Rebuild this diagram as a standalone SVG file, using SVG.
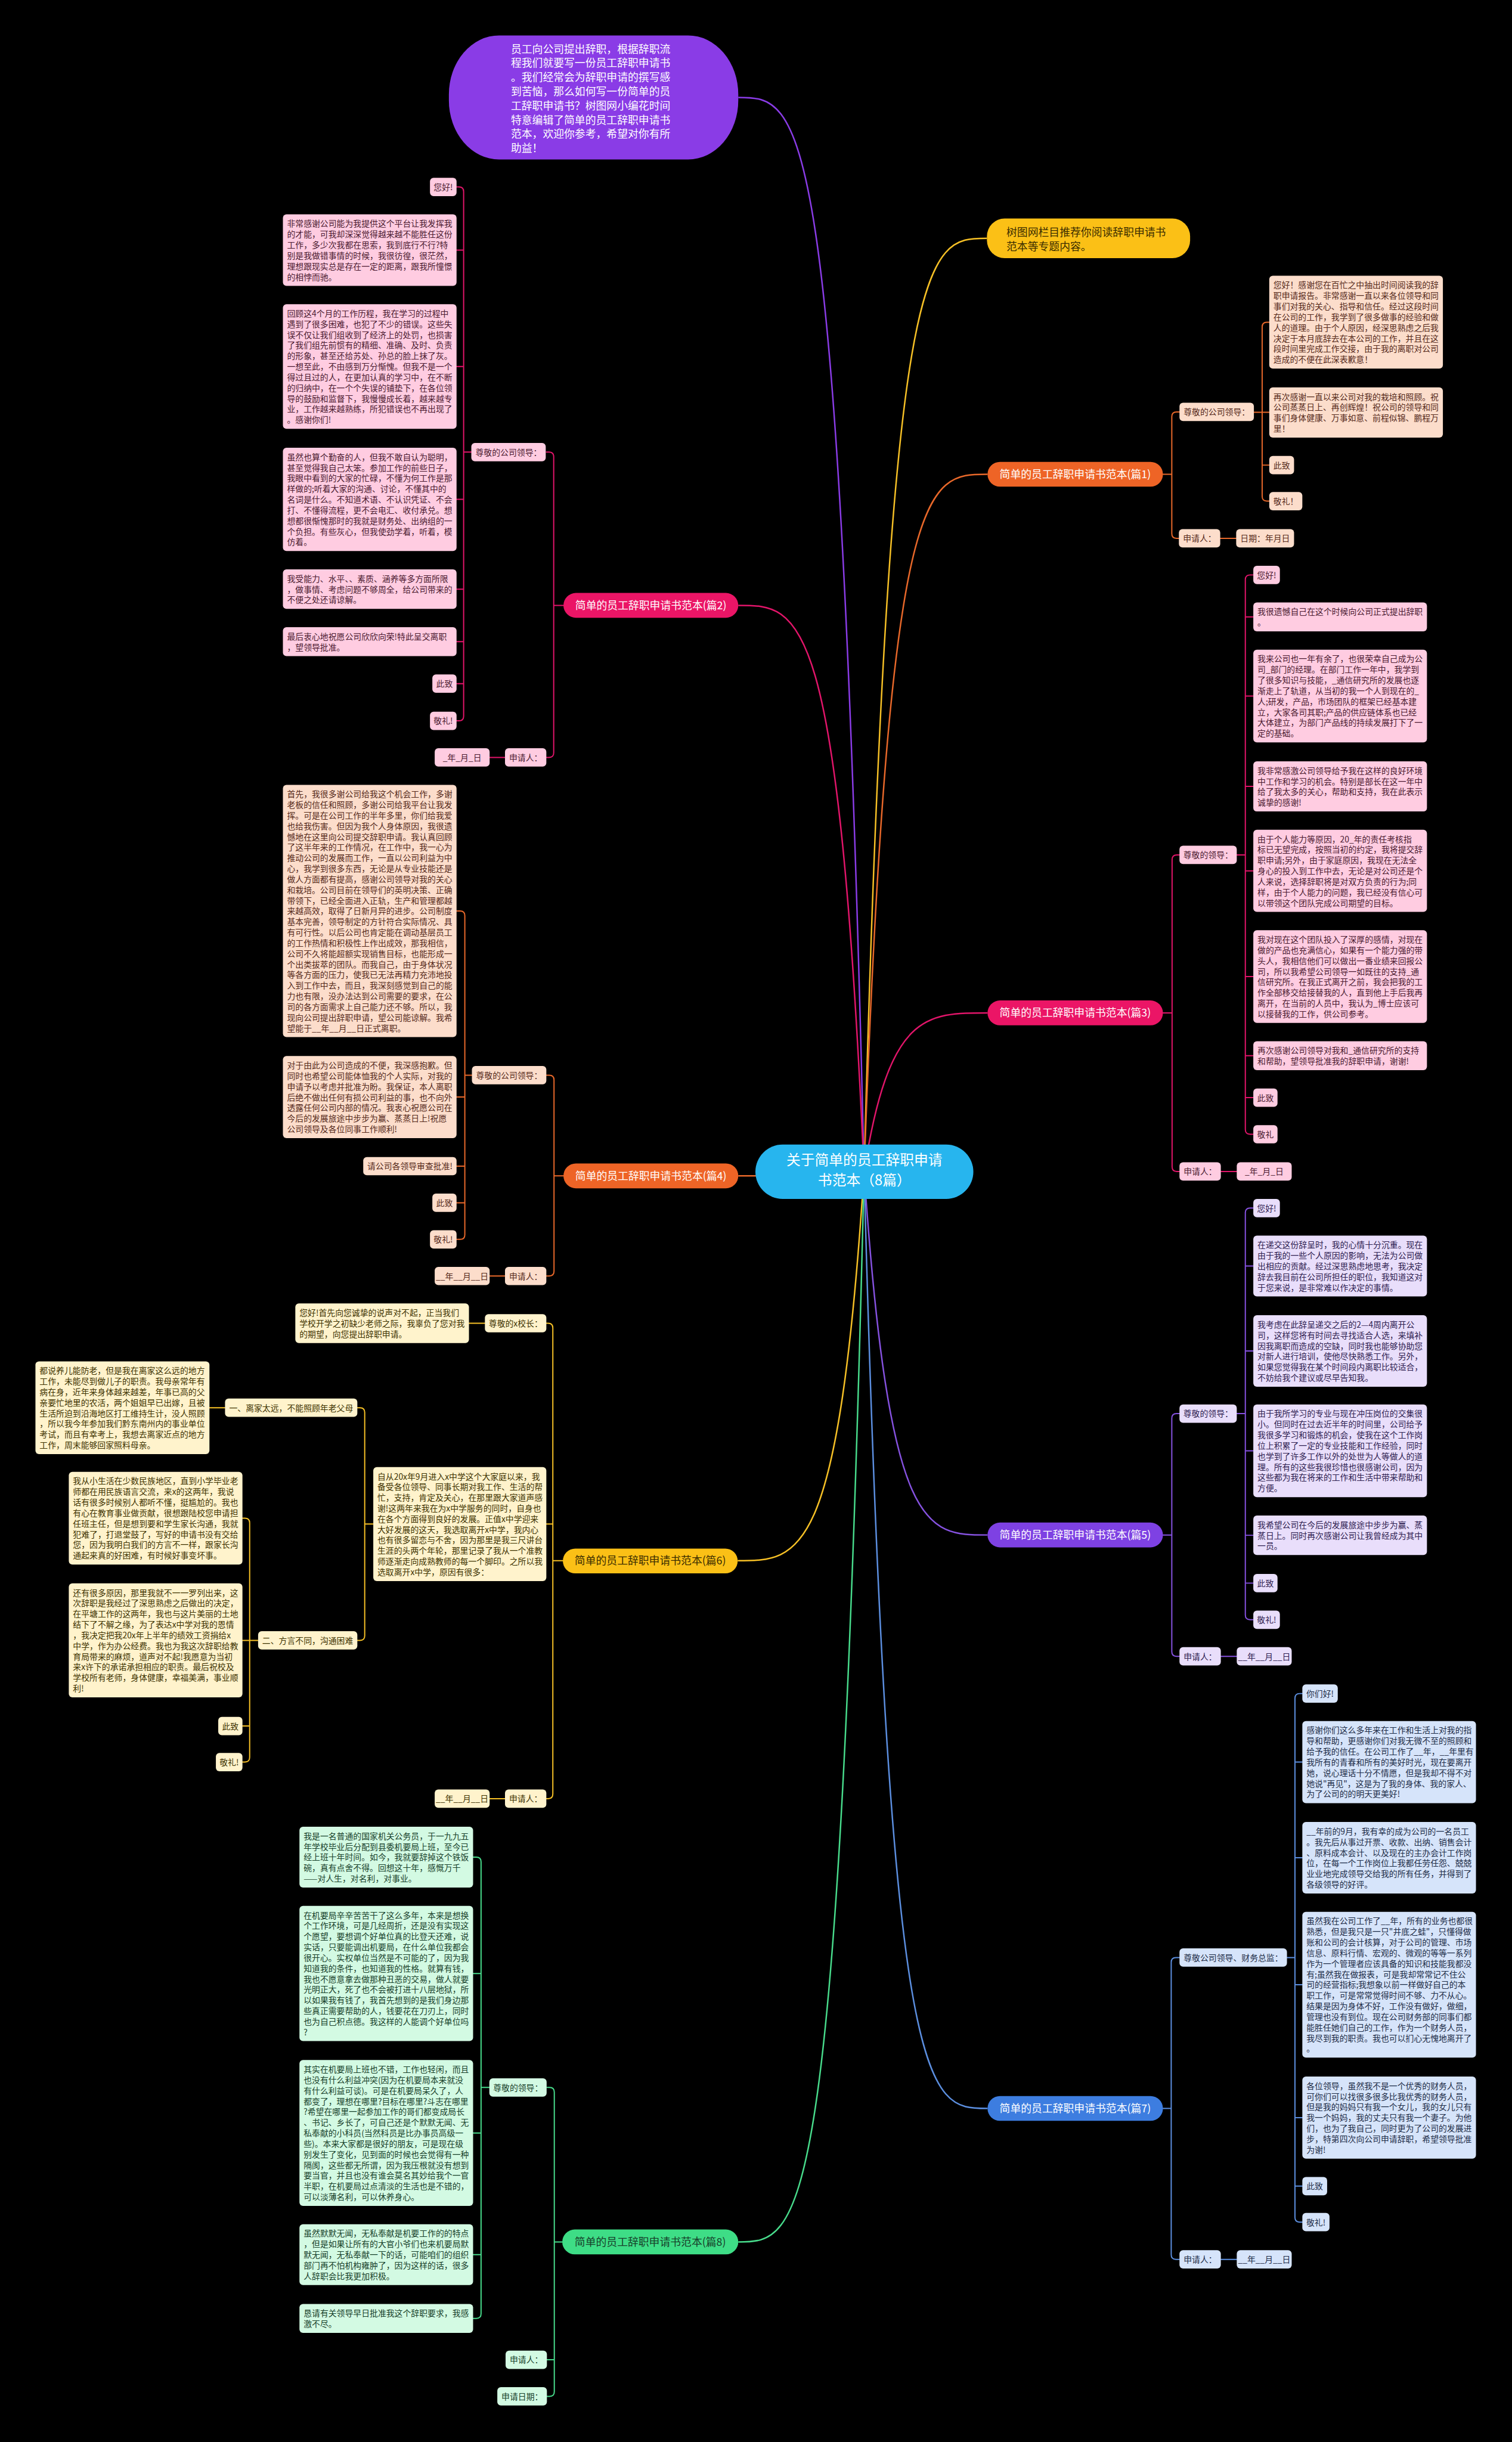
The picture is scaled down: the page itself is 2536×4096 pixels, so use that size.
<svg xmlns="http://www.w3.org/2000/svg" width="2536" height="4096" viewBox="0 0 2536 4096">
<style>
text{font-family:"Noto Sans CJK SC","Noto Sans",sans-serif;font-size:14px}
.lbl{text-anchor:middle}
.nd text{font-size:18px;text-anchor:middle}
.cn path{fill:none;stroke-width:2;stroke-linecap:round}
.mc path{fill:none;stroke-width:2.5}
.or rect{fill:#FCDDCB}.or text{fill:#55291a}
.pk rect{fill:#FFCCE1}.pk text{fill:#4a1a30}
.pu rect{fill:#E9DEFB}.pu text{fill:#2e2050}
.ye rect{fill:#FFF3CC}.ye text{fill:#3d3200}
.bl rect{fill:#D6E4FA}.bl text{fill:#1d2c47}
.gr rect{fill:#D3FAE3}.gr text{fill:#17402a}
</style>
<rect x="0" y="0" width="2536" height="4096" fill="#000"/>
<g transform="scale(0.990625)">
<g id="connectors">
<g class="mc">
<path stroke="#8A3CE6" d="M1463 1984 C1420 165 1357 165 1250 165"/>
<path stroke="#F6C026" d="M1463 1984 C1505 403.5 1567 403.5 1671 403.5"/>
<path stroke="#E8682A" d="M1463 1984 C1505 803 1567.5 803 1672 803"/>
<path stroke="#E2156A" d="M1463 1984 C1420 1025 1356.5 1025 1250 1025"/>
<path stroke="#E2156A" d="M1463 1984 C1505 1715 1567.5 1715 1672 1715"/>
<path stroke="#E8682A" d="M1463 1984 C1420 1991 1356.5 1991 1250 1991"/>
<path stroke="#8652E0" d="M1463 1984 C1505 2599 1567.5 2599 1672 2599"/>
<path stroke="#F6C026" d="M1463 1984 C1420 2642.5 1356 2642.5 1249 2642.5"/>
<path stroke="#5C8FE0" d="M1463 1984 C1505 3570 1567.5 3570 1672 3570"/>
<path stroke="#48DC8C" d="M1463 1984 C1420 3796 1356.5 3796 1250 3796"/>
</g>
<g class="cn">
<path stroke="#E8682A" d="M1997 697.5 H1992 Q1984 697.5 1984 705.5 V903.5 Q1984 911.5 1992 911.5 H1997 M1969 803 H1984 M2066 911.5 H2093"/>
<path stroke="#E8682A" d="M2149 545.5 H2145 Q2137 545.5 2137 553.5 V840.5 Q2137 848.5 2145 848.5 H2149 M2123 698 H2149 M2137 787.5 H2149"/>
<path stroke="#E2156A" d="M925 765.5 H929.5 Q937.5 765.5 937.5 773.5 V1274.5 Q937.5 1282.5 929.5 1282.5 H925 M954 1025 H937.5 M829 1282.5 H855"/>
<path stroke="#E2156A" d="M773 316.5 H777 Q785 316.5 785 324.5 V1212.5 Q785 1220.5 777 1220.5 H773 M798 765.5 H785 M785 423.5 H773 M785 620.5 H773 M785 845.5 H773 M785 997.5 H773 M785 1086.5 H773 M785 1157.5 H773"/>
<path stroke="#E2156A" d="M1997 1447.5 H1992.5 Q1984.5 1447.5 1984.5 1455.5 V1975.5 Q1984.5 1983.5 1992.5 1983.5 H1997 M1969 1715 H1984.5 M2067 1983.5 H2094"/>
<path stroke="#E2156A" d="M2122 973.5 H2116.5 Q2108.5 973.5 2108.5 981.5 V1912.5 Q2108.5 1920.5 2116.5 1920.5 H2122 M2094 1447.5 H2108.5 M2108.5 1044.5 H2122 M2108.5 1178.5 H2122 M2108.5 1331.5 H2122 M2108.5 1474.5 H2122 M2108.5 1653.5 H2122 M2108.5 1787.5 H2122 M2108.5 1858.5 H2122"/>
<path stroke="#E8682A" d="M925 1820.5 H930 Q938 1820.5 938 1828.5 V2152.5 Q938 2160.5 930 2160.5 H925 M954 1991 H938 M829 2160.5 H855"/>
<path stroke="#E8682A" d="M773 1542.5 H779 Q787 1542.5 787 1550.5 V2090.5 Q787 2098.5 779 2098.5 H773 M799 1820.5 H787 M787 1857.5 H773 M787 1974.5 H773 M787 2036.5 H773"/>
<path stroke="#8652E0" d="M1997 2393.5 H1992 Q1984 2393.5 1984 2401.5 V2796.5 Q1984 2804.5 1992 2804.5 H1997 M1969 2599 H1984 M2067 2804.5 H2094"/>
<path stroke="#8652E0" d="M2122 2045.5 H2116.5 Q2108.5 2045.5 2108.5 2053.5 V2734.5 Q2108.5 2742.5 2116.5 2742.5 H2122 M2094 2393.5 H2108.5 M2108.5 2143.5 H2122 M2108.5 2287.5 H2122 M2108.5 2456.5 H2122 M2108.5 2599.5 H2122 M2108.5 2680.5 H2122"/>
<path stroke="#F6C026" d="M925 2240.5 H928 Q936 2240.5 936 2248.5 V3037.5 Q936 3045.5 928 3045.5 H925 M953 2642.5 H936 M936 2580.5 H925 M794 2240.5 H821 M829 3045.5 H855"/>
<path stroke="#F6C026" d="M605 2383.5 H609.5 Q617.5 2383.5 617.5 2391.5 V2769.5 Q617.5 2777.5 609.5 2777.5 H605 M632 2580.5 H617.5 M354.6 2383.5 H381"/>
<path stroke="#F6C026" d="M410.5 2570.5 H414.7 Q422.7 2570.5 422.7 2578.5 V2975.5 Q422.7 2983.5 414.7 2983.5 H410.5 M437 2777.5 H410.5 M422.7 2922.5 H410.5"/>
<path stroke="#5C8FE0" d="M1997 3314.5 H1991 Q1983 3314.5 1983 3322.5 V3817.5 Q1983 3825.5 1991 3825.5 H1997 M1969 3570 H1983 M2067 3825.5 H2094"/>
<path stroke="#5C8FE0" d="M2205 2867.5 H2200.5 Q2192.5 2867.5 2192.5 2875.5 V3754.5 Q2192.5 3762.5 2200.5 3762.5 H2205 M2179 3314.5 H2192.5 M2192.5 2983.5 H2205 M2192.5 3145.5 H2205 M2192.5 3360.5 H2205 M2192.5 3585.5 H2205 M2192.5 3701.5 H2205"/>
<path stroke="#48DC8C" d="M926 3534.5 H930.5 Q938.5 3534.5 938.5 3542.5 V4049.5 Q938.5 4057.5 930.5 4057.5 H926 M952 3796 H938.5 M938.5 3995.5 H926"/>
<path stroke="#48DC8C" d="M801 3144.5 H806.5 Q814.5 3144.5 814.5 3152.5 V3917.5 Q814.5 3925.5 806.5 3925.5 H801 M828.5 3534.5 H814.5 M814.5 3341.5 H801 M814.5 3611.5 H801 M814.5 3817.5 H801"/>
</g>
</g>

<g id="root"><rect x="1279" y="1938" width="369" height="92" rx="46" fill="#27B5EE"/><text x="1463.5" y="1973" style="font-size:24px;text-anchor:middle" fill="#fff">关于简单的员工辞职申请</text><text x="1463.5" y="2007" style="font-size:24px;text-anchor:middle" fill="#fff">书范本（8篇）</text></g>

<g id="intro"><rect x="760" y="60" width="490" height="210" rx="85" ry="100" fill="#8A3CE6"/><text x="865" y="89.5" style="font-size:18px" fill="#fff"><tspan x="865" dy="0">员工向公司提出辞职，根据辞职流</tspan><tspan x="865" dy="24">程我们就要写一份员工辞职申请书</tspan><tspan x="865" dy="24">。我们经常会为辞职申请的撰写感</tspan><tspan x="865" dy="24">到苦恼，那么如何写一份简单的员</tspan><tspan x="865" dy="24">工辞职申请书？树图网小编花时间</tspan><tspan x="865" dy="24">特意编辑了简单的员工辞职申请书</tspan><tspan x="865" dy="24">范本，欢迎你参考，希望对你有所</tspan><tspan x="865" dy="24">助益！</tspan></text></g>

<g id="recommend"><rect x="1671" y="370" width="344" height="67" rx="30" fill="#FBC016"/><text x="1704" y="399.5" style="font-size:18px" fill="#3a2c00"><tspan x="1704" dy="0">树图网栏目推荐你阅读辞职申请书</tspan><tspan x="1704" dy="24">范本等专题内容。</tspan></text></g>

<!-- 篇1 -->
<g id="p1" class="nd"><rect x="1672" y="782" width="297" height="42" rx="21" fill="#EE6426"/><text x="1820.5" y="809.5" fill="#fff">简单的员工辞职申请书范本(篇1)</text></g>
<g class="or">
<g id="p1-lead"><rect x="1997" y="682" width="126" height="31" rx="6"/><text class="lbl" x="2060" y="703">尊敬的公司领导：</text></g>
<g id="p1-a"><rect x="2149" y="467" width="294" height="157" rx="6"/><text x="2156" y="488"><tspan x="2156" dy="0">您好！感谢您在百忙之中抽出时间阅读我的辞</tspan><tspan x="2156" dy="18">职申请报告。非常感谢一直以来各位领导和同</tspan><tspan x="2156" dy="18">事们对我的关心、指导和信任。经过这段时间</tspan><tspan x="2156" dy="18">在公司的工作，我学到了很多做事的经验和做</tspan><tspan x="2156" dy="18">人的道理。由于个人原因，经深思熟虑之后我</tspan><tspan x="2156" dy="18">决定于本月底辞去在本公司的工作，并且在这</tspan><tspan x="2156" dy="18">段时间里完成工作交接，由于我的离职对公司</tspan><tspan x="2156" dy="18">造成的不便在此深表歉意！</tspan></text></g>
<g id="p1-b"><rect x="2149" y="656" width="294" height="85" rx="6"/><text x="2156" y="677"><tspan x="2156" dy="0">再次感谢一直以来公司对我的栽培和照顾。祝</tspan><tspan x="2156" dy="18">公司蒸蒸日上、再创辉煌！祝公司的领导和同</tspan><tspan x="2156" dy="18">事们身体健康、万事如意、前程似锦、鹏程万</tspan><tspan x="2156" dy="18">里！</tspan></text></g>
<g id="p1-c"><rect x="2149" y="772" width="42" height="31" rx="6"/><text class="lbl" x="2170" y="793">此致</text></g>
<g id="p1-d"><rect x="2149" y="833" width="56" height="31" rx="6"/><text class="lbl" x="2177" y="854">敬礼！</text></g>
<g id="p1-e"><rect x="1996" y="896" width="70" height="31" rx="6"/><text class="lbl" x="2031" y="917">申请人：</text></g>
<g id="p1-f"><rect x="2093" y="896" width="98" height="31" rx="6"/><text class="lbl" x="2142" y="917">日期：年月日</text></g>
</g>

<!-- 篇2 -->
<g id="p2" class="nd"><rect x="954" y="1004" width="296" height="42" rx="21" fill="#EB1566"/><text x="1102" y="1031.5" fill="#fff">简单的员工辞职申请书范本(篇2)</text></g>
<g class="pk">
<g id="p2-lead"><rect x="798" y="750" width="126" height="31" rx="6"/><text class="lbl" x="861" y="771">尊敬的公司领导：</text></g>
<g id="p2-a"><rect x="728" y="301" width="45" height="31" rx="6"/><text class="lbl" x="750.5" y="322">您好!</text></g>
<g id="p2-b"><rect x="479" y="363" width="294" height="121" rx="6"/><text x="486" y="384"><tspan x="486" dy="0">非常感谢公司能为我提供这个平台让我发挥我</tspan><tspan x="486" dy="18">的才能，可我却深深觉得越来越不能胜任这份</tspan><tspan x="486" dy="18">工作，多少次我都在思索，我到底行不行?特</tspan><tspan x="486" dy="18">别是我做错事情的时候，我很彷徨，很茫然，</tspan><tspan x="486" dy="18">理想跟现实总是存在一定的距离，跟我所憧憬</tspan><tspan x="486" dy="18">的相悖而驰。</tspan></text></g>
<g id="p2-c"><rect x="479" y="515" width="294" height="211" rx="6"/><text x="486" y="536"><tspan x="486" dy="0">回顾这4个月的工作历程，我在学习的过程中</tspan><tspan x="486" dy="18">遇到了很多困难，也犯了不少的错误。这些失</tspan><tspan x="486" dy="18">误不仅让我们组收到了经济上的处罚，也损害</tspan><tspan x="486" dy="18">了我们组先前惯有的精细、准确、及时、负责</tspan><tspan x="486" dy="18">的形象，甚至还给苏处、孙总的脸上抹了灰。</tspan><tspan x="486" dy="18">一想至此，不由感到万分惭愧。但我不是一个</tspan><tspan x="486" dy="18">得过且过的人，在更加认真的学习中，在不断</tspan><tspan x="486" dy="18">的归纳中，在一个个失误的铺垫下，在各位领</tspan><tspan x="486" dy="18">导的鼓励和监督下，我慢慢成长着，越来越专</tspan><tspan x="486" dy="18">业，工作越来越熟练，所犯错误也不再出现了</tspan><tspan x="486" dy="18">。感谢你们!</tspan></text></g>
<g id="p2-d"><rect x="479" y="758" width="294" height="175" rx="6"/><text x="486" y="779"><tspan x="486" dy="0">虽然也算个勤奋的人，但我不敢自认为聪明，</tspan><tspan x="486" dy="18">甚至觉得我自己太笨。参加工作的前些日子，</tspan><tspan x="486" dy="18">我眼中看到的大家的忙碌，不懂为何工作是那</tspan><tspan x="486" dy="18">样做的;听着大家的沟通、讨论，不懂其中的</tspan><tspan x="486" dy="18">名词是什么。不知道术语、不认识凭证、不会</tspan><tspan x="486" dy="18">打、不懂得流程，更不会电汇、收付承兑。想</tspan><tspan x="486" dy="18">想都很惭愧那时的我就是财务处、出纳组的一</tspan><tspan x="486" dy="18">个负担。有些灰心，但我使劲学着，听着，模</tspan><tspan x="486" dy="18">仿着。</tspan></text></g>
<g id="p2-e"><rect x="479" y="964" width="294" height="67" rx="6"/><text x="486" y="985"><tspan x="486" dy="0">我受能力、水平、、素质、涵养等多方面所限</tspan><tspan x="486" dy="18">，做事情、考虑问题不够周全，给公司带来的</tspan><tspan x="486" dy="18">不便之处还请谅解。</tspan></text></g>
<g id="p2-f"><rect x="479" y="1062" width="294" height="49" rx="6"/><text x="486" y="1083"><tspan x="486" dy="0">最后衷心地祝愿公司欣欣向荣!特此呈交离职</tspan><tspan x="486" dy="18">，望领导批准。</tspan></text></g>
<g id="p2-g"><rect x="732" y="1142" width="41" height="31" rx="6"/><text class="lbl" x="752.5" y="1163">此致</text></g>
<g id="p2-h"><rect x="728" y="1205" width="45" height="31" rx="6"/><text class="lbl" x="750.5" y="1226">敬礼!</text></g>
<g id="p2-i"><rect x="855" y="1267" width="70" height="31" rx="6"/><text class="lbl" x="890" y="1288">申请人：</text></g>
<g id="p2-j"><rect x="736" y="1267" width="93" height="31" rx="6"/><text class="lbl" x="782.5" y="1288">_年_月_日</text></g>
</g>

<!-- 篇3 -->
<g id="p3" class="nd"><rect x="1672" y="1694" width="297" height="42" rx="21" fill="#EB1566"/><text x="1820.5" y="1721.5" fill="#fff">简单的员工辞职申请书范本(篇3)</text></g>
<g class="pk">
<g id="p3-lead"><rect x="1997" y="1432" width="97" height="31" rx="6"/><text class="lbl" x="2045.5" y="1453">尊敬的领导：</text></g>
<g id="p3-a"><rect x="2122" y="958" width="45" height="31" rx="6"/><text class="lbl" x="2144.5" y="979">您好!</text></g>
<g id="p3-b"><rect x="2122" y="1020" width="294" height="49" rx="6"/><text x="2129" y="1041"><tspan x="2129" dy="0">我很遗憾自己在这个时候向公司正式提出辞职</tspan><tspan x="2129" dy="18">。</tspan></text></g>
<g id="p3-c"><rect x="2122" y="1100" width="294" height="157" rx="6"/><text x="2129" y="1121"><tspan x="2129" dy="0">我来公司也一年有余了，也很荣幸自己成为公</tspan><tspan x="2129" dy="18">司_部门的经理。在部门工作一年中，我学到</tspan><tspan x="2129" dy="18">了很多知识与技能，_通信研究所的发展也逐</tspan><tspan x="2129" dy="18">渐走上了轨道，从当初的我一个人到现在的_</tspan><tspan x="2129" dy="18">人;研发，产品，市场团队的框架已经基本建</tspan><tspan x="2129" dy="18">立，大家各司其职;产品的供应链体系也已经</tspan><tspan x="2129" dy="18">大体建立，为部门产品线的持续发展打下了一</tspan><tspan x="2129" dy="18">定的基础。</tspan></text></g>
<g id="p3-d"><rect x="2122" y="1289" width="294" height="85" rx="6"/><text x="2129" y="1310"><tspan x="2129" dy="0">我非常感激公司领导给予我在这样的良好环境</tspan><tspan x="2129" dy="18">中工作和学习的机会。特别是部长在这一年中</tspan><tspan x="2129" dy="18">给了我太多的关心，帮助和支持，我在此表示</tspan><tspan x="2129" dy="18">诚挚的感谢!</tspan></text></g>
<g id="p3-e"><rect x="2122" y="1405" width="294" height="139" rx="6"/><text x="2129" y="1426"><tspan x="2129" dy="0">由于个人能力等原因，20_年的责任考核指</tspan><tspan x="2129" dy="18">标已无望完成，按照当初的约定，我将提交辞</tspan><tspan x="2129" dy="18">职申请;另外，由于家庭原因，我现在无法全</tspan><tspan x="2129" dy="18">身心的投入到工作中去，无论是对公司还是个</tspan><tspan x="2129" dy="18">人来说，选择辞职将是对双方负责的行为;同</tspan><tspan x="2129" dy="18">样，由于个人能力的问题，我已经没有信心可</tspan><tspan x="2129" dy="18">以带领这个团队完成公司期望的目标。</tspan></text></g>
<g id="p3-f"><rect x="2122" y="1575" width="294" height="157" rx="6"/><text x="2129" y="1596"><tspan x="2129" dy="0">我对现在这个团队投入了深厚的感情，对现在</tspan><tspan x="2129" dy="18">做的产品也充满信心，如果有一个能力强的带</tspan><tspan x="2129" dy="18">头人，我相信他们可以做出一番业绩来回报公</tspan><tspan x="2129" dy="18">司，所以我希望公司领导一如既往的支持_通</tspan><tspan x="2129" dy="18">信研究所。在我正式离开之前，我会把我的工</tspan><tspan x="2129" dy="18">作全部移交给接替我的人，直到他上手后我再</tspan><tspan x="2129" dy="18">离开，在当前的人员中，我认为_博士应该可</tspan><tspan x="2129" dy="18">以接替我的工作，供公司参考。</tspan></text></g>
<g id="p3-g"><rect x="2122" y="1763" width="294" height="49" rx="6"/><text x="2129" y="1784"><tspan x="2129" dy="0">再次感谢公司领导对我和_通信研究所的支持</tspan><tspan x="2129" dy="18">和帮助，望领导批准我的辞职申请，谢谢!</tspan></text></g>
<g id="p3-h"><rect x="2122" y="1843" width="41" height="31" rx="6"/><text class="lbl" x="2142.5" y="1864">此致</text></g>
<g id="p3-i"><rect x="2122" y="1905" width="41" height="31" rx="6"/><text class="lbl" x="2142.5" y="1926">敬礼</text></g>
<g id="p3-j"><rect x="1997" y="1968" width="70" height="31" rx="6"/><text class="lbl" x="2032" y="1989">申请人：</text></g>
<g id="p3-k"><rect x="2094" y="1968" width="93" height="31" rx="6"/><text class="lbl" x="2140.5" y="1989">_年_月_日</text></g>
</g>

<!-- 篇4 -->
<g id="p4" class="nd"><rect x="954" y="1970" width="296" height="42" rx="21" fill="#EE6426"/><text x="1102" y="1997.5" fill="#fff">简单的员工辞职申请书范本(篇4)</text></g>
<g class="or">
<g id="p4-lead"><rect x="799" y="1805" width="126" height="31" rx="6"/><text class="lbl" x="862" y="1826">尊敬的公司领导：</text></g>
<g id="p4-a"><rect x="479" y="1329" width="294" height="427" rx="6"/><text x="486" y="1350"><tspan x="486" dy="0">首先，我很多谢公司给我这个机会工作，多谢</tspan><tspan x="486" dy="18">老板的信任和照顾，多谢公司给我平台让我发</tspan><tspan x="486" dy="18">挥。可是在公司工作的半年多里，你们给我爱</tspan><tspan x="486" dy="18">也给我伤害。但因为我个人身体原因，我很遗</tspan><tspan x="486" dy="18">憾地在这里向公司提交辞职申请。我认真回顾</tspan><tspan x="486" dy="18">了这半年来的工作情况，在工作中，我一心为</tspan><tspan x="486" dy="18">推动公司的发展而工作，一直以公司利益为中</tspan><tspan x="486" dy="18">心，我学到很多东西，无论是从专业技能还是</tspan><tspan x="486" dy="18">做人方面都有提高，感谢公司领导对我的关心</tspan><tspan x="486" dy="18">和栽培。公司目前在领导们的英明决策、正确</tspan><tspan x="486" dy="18">带领下，已经全面进入正轨，生产和管理都越</tspan><tspan x="486" dy="18">来越高效，取得了日新月异的进步。公司制度</tspan><tspan x="486" dy="18">基本完善，领导制定的方针符合实际情况、具</tspan><tspan x="486" dy="18">有可行性。以后公司也肯定能在调动基层员工</tspan><tspan x="486" dy="18">的工作热情和积极性上作出成效，那我相信，</tspan><tspan x="486" dy="18">公司不久将能超额实现销售目标，也能形成一</tspan><tspan x="486" dy="18">个出类拔萃的团队。而我自己，由于身体状况</tspan><tspan x="486" dy="18">等各方面的压力，使我已无法再精力充沛地投</tspan><tspan x="486" dy="18">入到工作中去，而且，我深刻感觉到自己的能</tspan><tspan x="486" dy="18">力也有限，没办法达到公司需要的要求，在公</tspan><tspan x="486" dy="18">司的各方面需求上自己能力还不够。所以，我</tspan><tspan x="486" dy="18">现向公司提出辞职申请，望公司能谅解。我希</tspan><tspan x="486" dy="18">望能于__年__月__日正式离职。</tspan></text></g>
<g id="p4-b"><rect x="479" y="1788" width="294" height="139" rx="6"/><text x="486" y="1809"><tspan x="486" dy="0">对于由此为公司造成的不便，我深感抱歉。但</tspan><tspan x="486" dy="18">同时也希望公司能体恤我的个人实际，对我的</tspan><tspan x="486" dy="18">申请予以考虑并批准为盼。我保证，本人离职</tspan><tspan x="486" dy="18">后绝不做出任何有损公司利益的事，也不向外</tspan><tspan x="486" dy="18">透露任何公司内部的情况。我衷心祝愿公司在</tspan><tspan x="486" dy="18">今后的发展旅途中步步为赢、蒸蒸日上!祝愿</tspan><tspan x="486" dy="18">公司领导及各位同事工作顺利!</tspan></text></g>
<g id="p4-c"><rect x="615" y="1959" width="158" height="31" rx="6"/><text class="lbl" x="694" y="1980">请公司各领导审查批准!</text></g>
<g id="p4-d"><rect x="732" y="2021" width="41" height="31" rx="6"/><text class="lbl" x="752.5" y="2042">此致</text></g>
<g id="p4-e"><rect x="728" y="2083" width="45" height="31" rx="6"/><text class="lbl" x="750.5" y="2104">敬礼!</text></g>
<g id="p4-f"><rect x="855" y="2145" width="70" height="31" rx="6"/><text class="lbl" x="890" y="2166">申请人：</text></g>
<g id="p4-g"><rect x="736" y="2145" width="93" height="31" rx="6"/><text class="lbl" x="782.5" y="2166">__年__月__日</text></g>
</g>

<!-- 篇5 -->
<g id="p5" class="nd"><rect x="1672" y="2578" width="297" height="42" rx="21" fill="#7E41E3"/><text x="1820.5" y="2605.5" fill="#fff">简单的员工辞职申请书范本(篇5)</text></g>
<g class="pu">
<g id="p5-lead"><rect x="1997" y="2378" width="97" height="31" rx="6"/><text class="lbl" x="2045.5" y="2399">尊敬的领导：</text></g>
<g id="p5-a"><rect x="2122" y="2030" width="45" height="31" rx="6"/><text class="lbl" x="2144.5" y="2051">您好!</text></g>
<g id="p5-b"><rect x="2122" y="2092" width="294" height="103" rx="6"/><text x="2129" y="2113"><tspan x="2129" dy="0">在递交这份辞呈时，我的心情十分沉重。现在</tspan><tspan x="2129" dy="18">由于我的一些个人原因的影响，无法为公司做</tspan><tspan x="2129" dy="18">出相应的贡献。经过深思熟虑地思考，我决定</tspan><tspan x="2129" dy="18">辞去我目前在公司所担任的职位，我知道这对</tspan><tspan x="2129" dy="18">于您来说，是非常难以作决定的事情。</tspan></text></g>
<g id="p5-c"><rect x="2122" y="2227" width="294" height="121" rx="6"/><text x="2129" y="2248"><tspan x="2129" dy="0">我考虑在此辞呈递交之后的2—4周内离开公</tspan><tspan x="2129" dy="18">司，这样您将有时间去寻找适合人选，来填补</tspan><tspan x="2129" dy="18">因我离职而造成的空缺，同时我也能够协助您</tspan><tspan x="2129" dy="18">对新人进行培训，使他尽快熟悉工作。另外，</tspan><tspan x="2129" dy="18">如果您觉得我在某个时间段内离职比较适合，</tspan><tspan x="2129" dy="18">不妨给我个建议或尽早告知我。</tspan></text></g>
<g id="p5-d"><rect x="2122" y="2378" width="294" height="157" rx="6"/><text x="2129" y="2399"><tspan x="2129" dy="0">由于我所学习的专业与现在冲压岗位的交集很</tspan><tspan x="2129" dy="18">小。但同时在过去近半年的时间里，公司给予</tspan><tspan x="2129" dy="18">我很多学习和锻炼的机会，使我在这个工作岗</tspan><tspan x="2129" dy="18">位上积累了一定的专业技能和工作经验，同时</tspan><tspan x="2129" dy="18">也学到了许多工作以外的处世为人等做人的道</tspan><tspan x="2129" dy="18">理。所有的这些我很珍惜也很感谢公司，因为</tspan><tspan x="2129" dy="18">这些都为我在将来的工作和生活中带来帮助和</tspan><tspan x="2129" dy="18">方便。</tspan></text></g>
<g id="p5-e"><rect x="2122" y="2566" width="294" height="67" rx="6"/><text x="2129" y="2587"><tspan x="2129" dy="0">我希望公司在今后的发展旅途中步步为赢、蒸</tspan><tspan x="2129" dy="18">蒸日上。同时再次感谢公司让我曾经成为其中</tspan><tspan x="2129" dy="18">一员。</tspan></text></g>
<g id="p5-f"><rect x="2122" y="2665" width="41" height="31" rx="6"/><text class="lbl" x="2142.5" y="2686">此致</text></g>
<g id="p5-g"><rect x="2122" y="2727" width="45" height="31" rx="6"/><text class="lbl" x="2144.5" y="2748">敬礼!</text></g>
<g id="p5-h"><rect x="1997" y="2789" width="70" height="31" rx="6"/><text class="lbl" x="2032" y="2810">申请人：</text></g>
<g id="p5-i"><rect x="2094" y="2789" width="93" height="31" rx="6"/><text class="lbl" x="2140.5" y="2810">__年__月__日</text></g>
</g>

<!-- 篇6 -->
<g id="p6" class="nd"><rect x="953" y="2622" width="296" height="42" rx="21" fill="#FBC016"/><text x="1101" y="2649" fill="#3a2c00">简单的员工辞职申请书范本(篇6)</text></g>
<g class="ye">
<g id="p6-lead"><rect x="821" y="2225" width="104" height="31" rx="6"/><text class="lbl" x="873" y="2246">尊敬的x校长：</text></g>
<g id="p6-a"><rect x="500" y="2207" width="294" height="67" rx="6"/><text x="507" y="2228"><tspan x="507" dy="0">您好!首先向您诚挚的说声对不起，正当我们</tspan><tspan x="507" dy="18">学校开学之初缺少老师之际，我辜负了您对我</tspan><tspan x="507" dy="18">的期望，向您提出辞职申请。</tspan></text></g>
<g id="p6-b"><rect x="632" y="2484" width="293" height="193" rx="6"/><text x="639" y="2505"><tspan x="639" dy="0">自从20x年9月进入x中学这个大家庭以来，我</tspan><tspan x="639" dy="18">备受各位领导、同事长期对我工作、生活的帮</tspan><tspan x="639" dy="18">忙，支持，肯定及关心，在那里跟大家道声感</tspan><tspan x="639" dy="18">谢!这两年来我在为x中学服务的同时，自身也</tspan><tspan x="639" dy="18">在各个方面得到良好的发展。正值x中学迎来</tspan><tspan x="639" dy="18">大好发展的这天，我选取离开x中学，我内心</tspan><tspan x="639" dy="18">也有很多留恋与不舍，因为那里是我三尺讲台</tspan><tspan x="639" dy="18">生涯的头两个年轮，那里记录了我从一个准教</tspan><tspan x="639" dy="18">师逐渐走向成熟教师的每一个脚印。之所以我</tspan><tspan x="639" dy="18">选取离开x中学，原因有很多：</tspan></text></g>
<g id="p6-c"><rect x="381" y="2368" width="224" height="31" rx="6"/><text class="lbl" x="493" y="2389">一、离家太远，不能照顾年老父母</text></g>
<g id="p6-d"><rect x="60" y="2305" width="294.6" height="157" rx="6"/><text x="67" y="2326"><tspan x="67" dy="0">都说养儿能防老，但是我在离家这么远的地方</tspan><tspan x="67" dy="18">工作，未能尽到做儿子的职责。我母亲常年有</tspan><tspan x="67" dy="18">病在身，近年来身体越来越差，年事已高的父</tspan><tspan x="67" dy="18">亲要忙地里的农活，两个姐姐早已出嫁，且被</tspan><tspan x="67" dy="18">生活所迫到沿海地区打工维持生计，没人照顾</tspan><tspan x="67" dy="18">，所以我今年参加我们黔东南州内的事业单位</tspan><tspan x="67" dy="18">考试，而且有幸考上，我想去离家近点的地方</tspan><tspan x="67" dy="18">工作，周末能够回家照料母亲。</tspan></text></g>
<g id="p6-e"><rect x="437" y="2762" width="168" height="31" rx="6"/><text class="lbl" x="521" y="2783">二、方言不同，沟通困难</text></g>
<g id="p6-f"><rect x="116.5" y="2492" width="294" height="157" rx="6"/><text x="123.5" y="2513"><tspan x="123.5" dy="0">我从小生活在少数民族地区，直到小学毕业老</tspan><tspan x="123.5" dy="18">师都在用民族语言交流，来x的这两年，我说</tspan><tspan x="123.5" dy="18">话有很多时候别人都听不懂，挺尴尬的。我也</tspan><tspan x="123.5" dy="18">有心在教育事业做贡献，很想跟陆校您申请担</tspan><tspan x="123.5" dy="18">任班主任，但是想到要和学生家长沟通，我就</tspan><tspan x="123.5" dy="18">犯难了，打退堂鼓了，写好的申请书没有交给</tspan><tspan x="123.5" dy="18">您，因为我明白我们的方言不一样，跟家长沟</tspan><tspan x="123.5" dy="18">通起来真的好困难，有时候好事变坏事。</tspan></text></g>
<g id="p6-g"><rect x="116.5" y="2681" width="294" height="193" rx="6"/><text x="123.5" y="2702"><tspan x="123.5" dy="0">还有很多原因，那里我就不一一罗列出来，这</tspan><tspan x="123.5" dy="18">次辞职是我经过了深思熟虑之后做出的决定，</tspan><tspan x="123.5" dy="18">在平塘工作的这两年，我也与这片美丽的土地</tspan><tspan x="123.5" dy="18">结下了不解之缘，为了表达x中学对我的恩情</tspan><tspan x="123.5" dy="18">，我决定把我20x年上半年的绩效工资捐给x</tspan><tspan x="123.5" dy="18">中学，作为办公经费。我也为我这次辞职给教</tspan><tspan x="123.5" dy="18">育局带来的麻烦，道声对不起!我愿意为当初</tspan><tspan x="123.5" dy="18">来x许下的承诺承担相应的职责。最后祝校及</tspan><tspan x="123.5" dy="18">学校所有老师，身体健康，幸福美满，事业顺</tspan><tspan x="123.5" dy="18">利!</tspan></text></g>
<g id="p6-h"><rect x="369.5" y="2907" width="41" height="31" rx="6"/><text class="lbl" x="390" y="2928">此致</text></g>
<g id="p6-i"><rect x="365.5" y="2968" width="45" height="31" rx="6"/><text class="lbl" x="388" y="2989">敬礼!</text></g>
<g id="p6-j"><rect x="855" y="3030" width="70" height="31" rx="6"/><text class="lbl" x="890" y="3051">申请人：</text></g>
<g id="p6-k"><rect x="736" y="3030" width="93" height="31" rx="6"/><text class="lbl" x="782.5" y="3051">__年__月__日</text></g>
</g>

<!-- 篇7 -->
<g id="p7" class="nd"><rect x="1672" y="3549" width="297" height="42" rx="21" fill="#3D7DE0"/><text x="1820.5" y="3576.5" fill="#fff">简单的员工辞职申请书范本(篇7)</text></g>
<g class="bl">
<g id="p7-lead"><rect x="1997" y="3299" width="182" height="31" rx="6"/><text class="lbl" x="2088" y="3320">尊敬公司领导、财务总监：</text></g>
<g id="p7-a"><rect x="2205" y="2852" width="60" height="31" rx="6"/><text class="lbl" x="2235" y="2873">你们好!</text></g>
<g id="p7-b"><rect x="2205" y="2914" width="294" height="139" rx="6"/><text x="2212" y="2935"><tspan x="2212" dy="0">感谢你们这么多年来在工作和生活上对我的指</tspan><tspan x="2212" dy="18">导和帮助，更感谢你们对我无微不至的照顾和</tspan><tspan x="2212" dy="18">给予我的信任。在公司工作了__年，__年里有</tspan><tspan x="2212" dy="18">我所有的青春和所有的美好时光，现在要离开</tspan><tspan x="2212" dy="18">她，说心理话十分不情愿，但是我却不得不对</tspan><tspan x="2212" dy="18">她说"再见"，这是为了我的身体、我的家人、</tspan><tspan x="2212" dy="18">为了公司的的明天更美好!</tspan></text></g>
<g id="p7-c"><rect x="2205" y="3085" width="294" height="121" rx="6"/><text x="2212" y="3106"><tspan x="2212" dy="0">__年前的9月，我有幸的成为公司的一名员工</tspan><tspan x="2212" dy="18">。我先后从事过开票、收款、出纳、销售会计</tspan><tspan x="2212" dy="18">、原料成本会计、以及现在的主办会计工作岗</tspan><tspan x="2212" dy="18">位，在每一个工作岗位上我都任劳任怨、兢兢</tspan><tspan x="2212" dy="18">业业地完成领导交给我的所有任务，并得到了</tspan><tspan x="2212" dy="18">各级领导的好评。</tspan></text></g>
<g id="p7-d"><rect x="2205" y="3237" width="294" height="247" rx="6"/><text x="2212" y="3258"><tspan x="2212" dy="0">虽然我在公司工作了__年，所有的业务也都很</tspan><tspan x="2212" dy="18">熟悉，但是我只是一只"井底之蛙"，只懂得做</tspan><tspan x="2212" dy="18">账和公司的会计核算，对于公司的管理、市场</tspan><tspan x="2212" dy="18">信息、原料行情、宏观的、微观的等等一系列</tspan><tspan x="2212" dy="18">作为一个管理者应该具备的知识和技能我都没</tspan><tspan x="2212" dy="18">有;虽然我在做报表，可是我却常常记不住公</tspan><tspan x="2212" dy="18">司的经营指标;我想象以前一样做好自己的本</tspan><tspan x="2212" dy="18">职工作，可是常常觉得时间不够、力不从心。</tspan><tspan x="2212" dy="18">结果是因为身体不好，工作没有做好，做细，</tspan><tspan x="2212" dy="18">管理也没有到位。现在公司财务部的同事们都</tspan><tspan x="2212" dy="18">能胜任她们自己的工作，作为一个财务人员，</tspan><tspan x="2212" dy="18">我尽到我的职责。我也可以扪心无愧地离开了</tspan><tspan x="2212" dy="18">。</tspan></text></g>
<g id="p7-e"><rect x="2205" y="3516" width="294" height="139" rx="6"/><text x="2212" y="3537"><tspan x="2212" dy="0">各位领导，虽然我不是一个优秀的财务人员，</tspan><tspan x="2212" dy="18">可你们可以找很多很多比我优秀的财务人员，</tspan><tspan x="2212" dy="18">但是我的妈妈只有我一个女儿，我的女儿只有</tspan><tspan x="2212" dy="18">我一个妈妈，我的丈夫只有我一个妻子。为他</tspan><tspan x="2212" dy="18">们，也为了我自己，同时更为了公司的发展进</tspan><tspan x="2212" dy="18">步，特第四次向公司申请辞职，希望领导批准</tspan><tspan x="2212" dy="18">为谢!</tspan></text></g>
<g id="p7-f"><rect x="2205" y="3686" width="42" height="31" rx="6"/><text class="lbl" x="2226" y="3707">此致</text></g>
<g id="p7-g"><rect x="2205" y="3747" width="46" height="31" rx="6"/><text class="lbl" x="2228" y="3768">敬礼!</text></g>
<g id="p7-h"><rect x="1997" y="3810" width="70" height="31" rx="6"/><text class="lbl" x="2032" y="3831">申请人：</text></g>
<g id="p7-i"><rect x="2094" y="3810" width="93" height="31" rx="6"/><text class="lbl" x="2140.5" y="3831">__年__月__日</text></g>
</g>

<!-- 篇8 -->
<g id="p8" class="nd"><rect x="952" y="3775" width="298" height="42" rx="21" fill="#3EDD86"/><text x="1101" y="3802.5" fill="#17402a">简单的员工辞职申请书范本(篇8)</text></g>
<g class="gr">
<g id="p8-lead"><rect x="828.5" y="3519" width="97" height="31" rx="6"/><text class="lbl" x="877" y="3540">尊敬的领导：</text></g>
<g id="p8-a"><rect x="507" y="3093" width="294" height="103" rx="6"/><text x="514" y="3114"><tspan x="514" dy="0">我是一名普通的国家机关公务员，于一九九五</tspan><tspan x="514" dy="18">年学校毕业后分配到县委机要局上班，至今已</tspan><tspan x="514" dy="18">经上班十年时间。如今，我就要辞掉这个铁饭</tspan><tspan x="514" dy="18">碗，真有点舍不得。回想这十年，感慨万千</tspan><tspan x="514" dy="18">——对人生，对名利，对事业。</tspan></text></g>
<g id="p8-b"><rect x="507" y="3227" width="294" height="229" rx="6"/><text x="514" y="3248"><tspan x="514" dy="0">在机要局辛辛苦苦干了这么多年，本来是想换</tspan><tspan x="514" dy="18">个工作环境，可是几经周折，还是没有实现这</tspan><tspan x="514" dy="18">个愿望，要想调个好单位真的比登天还难，说</tspan><tspan x="514" dy="18">实话，只要能调出机要局，在什么单位我都会</tspan><tspan x="514" dy="18">很开心。实权单位当然是不可能的了，因为我</tspan><tspan x="514" dy="18">知道我的条件，也知道我的性格。就算有钱，</tspan><tspan x="514" dy="18">我也不愿意拿去做那种丑恶的交易，做人就要</tspan><tspan x="514" dy="18">光明正大，死了也不会被打进十八层地狱，所</tspan><tspan x="514" dy="18">以如果我有钱了，我首先想到的是我们身边那</tspan><tspan x="514" dy="18">些真正需要帮助的人，钱要花在刀刃上，同时</tspan><tspan x="514" dy="18">也为自己积点德。我这样的人能调个好单位吗</tspan><tspan x="514" dy="18">?</tspan></text></g>
<g id="p8-c"><rect x="507" y="3488" width="294" height="247" rx="6"/><text x="514" y="3509"><tspan x="514" dy="0">其实在机要局上班也不错，工作也轻闲，而且</tspan><tspan x="514" dy="18">也没有什么利益冲突(因为在机要局本来就没</tspan><tspan x="514" dy="18">有什么利益可谈)。可是在机要局呆久了，人</tspan><tspan x="514" dy="18">都变了，理想在哪里?目标在哪里?斗志在哪里</tspan><tspan x="514" dy="18">?希望在哪里一起参加工作的哥们都变成局长</tspan><tspan x="514" dy="18">、书记、乡长了，可自己还是个默默无闻、无</tspan><tspan x="514" dy="18">私奉献的小科员(当然科员是比办事员高级一</tspan><tspan x="514" dy="18">些)。本来大家都是很好的朋友，可是现在级</tspan><tspan x="514" dy="18">别发生了变化，见到面的时候也会觉得有一种</tspan><tspan x="514" dy="18">隔阂，这些都无所谓，因为我压根就没有想到</tspan><tspan x="514" dy="18">要当官，并且也没有谁会莫名其妙给我个一官</tspan><tspan x="514" dy="18">半职，在机要局过点清淡的生活也是不错的，</tspan><tspan x="514" dy="18">可以淡薄名利，可以休养身心。</tspan></text></g>
<g id="p8-d"><rect x="507" y="3766" width="294" height="103" rx="6"/><text x="514" y="3787"><tspan x="514" dy="0">虽然默默无闻，无私奉献是机要工作的的特点</tspan><tspan x="514" dy="18">，但是如果让所有的大官小爷们也来机要局默</tspan><tspan x="514" dy="18">默无闻，无私奉献一下的话，可能咱们的组织</tspan><tspan x="514" dy="18">部门再不怕机构雍肿了，因为这样的话，很多</tspan><tspan x="514" dy="18">人辞职会比我更加积极。</tspan></text></g>
<g id="p8-e"><rect x="507" y="3901" width="294" height="49" rx="6"/><text x="514" y="3922"><tspan x="514" dy="0">恳请有关领导早日批准我这个辞职要求，我感</tspan><tspan x="514" dy="18">激不尽。</tspan></text></g>
<g id="p8-f"><rect x="856" y="3980" width="70" height="31" rx="6"/><text class="lbl" x="891" y="4001">申请人：</text></g>
<g id="p8-g"><rect x="842" y="4042" width="84" height="31" rx="6"/><text class="lbl" x="884" y="4063">申请日期：</text></g>
</g>
</g>
</svg>
